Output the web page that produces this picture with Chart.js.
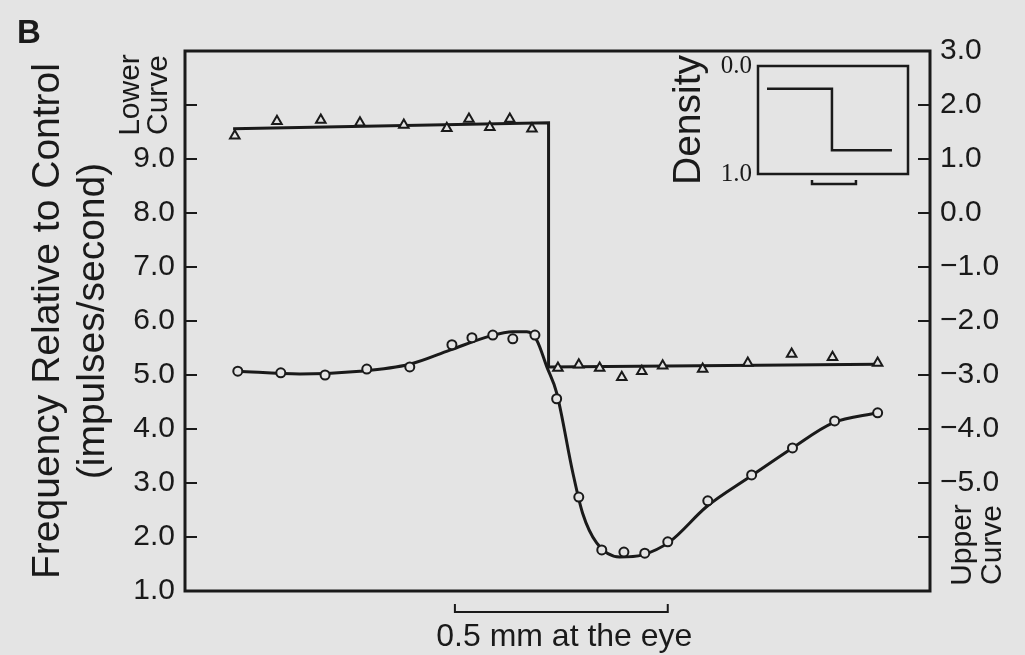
<!DOCTYPE html>
<html>
<head>
<meta charset="utf-8">
<script src="https://cdn.jsdelivr.net/npm/chart.js@4.4.1/dist/chart.umd.min.js"></script>
<style>
  html, body { margin: 0; padding: 0; background: #e4e4e4; }
  #wrap { position: relative; width: 1025px; height: 655px; overflow: hidden; }
  #main { position: absolute; left: 0; top: 0; }
  #inset { position: absolute; left: 640px; top: 45px; }
</style>
</head>
<body>
<div id="wrap">
  <canvas id="main" width="1025" height="655"></canvas>
  <canvas id="inset" width="285" height="155"></canvas>
</div>
<script>
// position in mm across the retina
const triX = [0.117, 0.216, 0.319, 0.411, 0.514, 0.615, 0.667, 0.716, 0.763, 0.815,
              0.876, 0.925, 0.974, 1.026, 1.073, 1.122, 1.216, 1.322, 1.425, 1.521, 1.627];
const triY = [1.43, 1.70, 1.72, 1.67, 1.63, 1.57, 1.74, 1.59, 1.74, 1.56,
              -2.87, -2.81, -2.87, -3.04, -2.93, -2.83, -2.89, -2.78, -2.61, -2.67, -2.78];

const circX = [0.124, 0.225, 0.329, 0.427, 0.528, 0.627, 0.674, 0.723, 0.770, 0.822,
               0.873, 0.925, 0.979, 1.031, 1.080, 1.134, 1.228, 1.331, 1.427, 1.526, 1.627];
const circY = [5.07, 5.04, 5.00, 5.11, 5.15, 5.56, 5.69, 5.74, 5.67, 5.74,
               4.56, 2.74, 1.76, 1.72, 1.70, 1.91, 2.67, 3.15, 3.65, 4.15, 4.30];

// fitted curves
const triFitX = [0.113, 0.854, 0.854, 1.627];
const triFitY = [1.56, 1.67, -2.85, -2.80];
const circFitX = [0.124, 0.270, 0.411, 0.528, 0.622, 0.716, 0.770, 0.803, 0.826, 0.850, 0.873,
                  0.911, 0.934, 0.967, 1.021, 1.075, 1.138, 1.225, 1.326, 1.427, 1.521, 1.627];
const circFitY = [5.07, 5.02, 5.07, 5.20, 5.46, 5.72, 5.80, 5.80, 5.65, 5.15, 4.67,
                  3.19, 2.44, 1.89, 1.63, 1.67, 1.91, 2.56, 3.11, 3.65, 4.11, 4.30];

// inset: density profile of the stimulus edge
const densX = [0.06, 0.493, 0.493, 0.893];
const densY = [0.21, 0.21, 0.78, 0.78];

const leftTicks = [1, 11];   // lower curve axis
const rightTicks = [-7, 3];  // upper curve axis
const scaleBar = [0.634, 1.134]; // 0.5 mm

const ink = '#1a1a1a';
const bg = '#e4e4e4';
const sans = '"Liberation Sans", Arial, Helvetica, sans-serif';

function pts(xs, ys) {
    return xs.map((x, i) => ({ x: x, y: ys[i] }));
}

function fmt(v) {
    const s = Math.abs(v).toFixed(1);
    return v < 0 ? '\u2212' + s : s;
}

// frame round the plot area
const framePlugin = {
    id: 'frame',
    afterDraw(chart, args, opts) {
        const a = chart.chartArea, ctx = chart.ctx;
        ctx.save();
        ctx.strokeStyle = ink;
        ctx.lineWidth = opts.width || 2.5;
        ctx.strokeRect(a.left, a.top, a.right - a.left, a.bottom - a.top);
        ctx.restore();
    }
};

// tick marks pointing into the plot
const innerTicks = {
    id: 'innerTicks',
    afterDraw(chart) {
        const ctx = chart.ctx, a = chart.chartArea;
        ctx.save();
        ctx.strokeStyle = ink;
        ctx.lineWidth = 2;
        ['y', 'y2'].forEach(id => {
            const sc = chart.scales[id];
            sc.ticks.forEach(t => {
                const py = sc.getPixelForValue(t.value);
                ctx.beginPath();
                if (id === 'y') { ctx.moveTo(a.left, py); ctx.lineTo(a.left + 12, py); }
                else { ctx.moveTo(a.right, py); ctx.lineTo(a.right - 12, py); }
                ctx.stroke();
            });
        });
        ctx.restore();
    }
};

function rotText(ctx, lines, cx, cy, gap) {
    ctx.save();
    ctx.translate(cx, cy);
    ctx.rotate(-Math.PI / 2);
    ctx.textAlign = 'center';
    ctx.textBaseline = 'middle';
    lines.forEach((l, i) => ctx.fillText(l, 0, (i - (lines.length - 1) / 2) * gap));
    ctx.restore();
}

const extras = {
    id: 'extras',
    afterDraw(chart) {
        const ctx = chart.ctx, a = chart.chartArea, x = chart.scales.x;
        ctx.save();
        ctx.fillStyle = ink;
        ctx.strokeStyle = ink;

        ctx.font = 'bold 33px ' + sans;
        ctx.textAlign = 'left';
        ctx.textBaseline = 'alphabetic';
        ctx.fillText('B', 17, 43);

        ctx.font = '30px ' + sans;
        rotText(ctx, ['Lower', 'Curve'], a.left - 40, a.top + 44, 28);
        rotText(ctx, ['Upper', 'Curve'], a.right + 48, a.bottom - 46, 30);

        // scale bar
        const x0 = x.getPixelForValue(scaleBar[0]);
        const x1 = x.getPixelForValue(scaleBar[1]);
        const by = a.bottom + 21;
        ctx.lineWidth = 2;
        ctx.beginPath();
        ctx.moveTo(x0, by - 8); ctx.lineTo(x0, by); ctx.lineTo(x1, by); ctx.lineTo(x1, by - 8);
        ctx.stroke();
        ctx.font = '32px ' + sans;
        ctx.textAlign = 'center';
        ctx.textBaseline = 'alphabetic';
        ctx.fillText('0.5 mm at the eye', (x0 + x1) / 2 + 3, a.bottom + 55);
        ctx.restore();
    }
};

new Chart(document.getElementById('main'), {
    type: 'scatter',
    data: {
        datasets: [
            {
                data: pts(triX, triY), yAxisID: 'y2', pointStyle: 'triangle',
                pointRadius: 5.5, borderColor: ink, backgroundColor: bg, borderWidth: 2, order: 0
            },
            {
                data: pts(circX, circY), yAxisID: 'y', pointStyle: 'circle',
                pointRadius: 4.5, borderColor: ink, backgroundColor: bg, borderWidth: 2, order: 0
            },
            {
                data: pts(triFitX, triFitY), yAxisID: 'y2', showLine: true, pointRadius: 0,
                borderColor: ink, borderWidth: 3, order: 1
            },
            {
                data: pts(circFitX, circFitY), yAxisID: 'y', showLine: true, pointRadius: 0,
                borderColor: ink, borderWidth: 3, cubicInterpolationMode: 'monotone', order: 1
            }
        ]
    },
    options: {
        responsive: false,
        animation: false,
        layout: { padding: { top: 51, bottom: 64, left: 0, right: 0 } },
        plugins: { legend: { display: false }, tooltip: { enabled: false }, frame: { width: 3 } },
        scales: {
            x: { type: 'linear', min: 0, max: 1.75, display: false },
            y: {
                position: 'left', min: leftTicks[0], max: leftTicks[1],
                afterFit(s) { s.width = 185; },
                grid: { display: false, drawTicks: false },
                border: { display: false },
                ticks: {
                    stepSize: 1, padding: 10, color: ink,
                    font: { family: sans, size: 30 },
                    callback: v => (v <= 9 ? fmt(v) : '')
                },
                title: {
                    display: true, color: ink,
                    text: ['Frequency Relative to Control', '(impulses/second)'],
                    font: { family: sans, size: 39, lineHeight: 1.15 },
                    padding: { top: 26, bottom: 0 }
                }
            },
            y2: {
                position: 'right', min: rightTicks[0], max: rightTicks[1],
                afterFit(s) { s.width = 95; },
                grid: { display: false, drawTicks: false },
                border: { display: false },
                ticks: {
                    stepSize: 1, padding: 10, color: ink,
                    font: { family: sans, size: 30 },
                    callback: v => (v >= -5 ? fmt(v) : '')
                }
            }
        }
    },
    plugins: [framePlugin, innerTicks, extras]
});

// inset chart
const insetBar = [0.36, 0.653];
const insetExtras = {
    id: 'insetExtras',
    afterDraw(chart) {
        const ctx = chart.ctx, a = chart.chartArea, x = chart.scales.x;
        const x0 = x.getPixelForValue(insetBar[0]);
        const x1 = x.getPixelForValue(insetBar[1]);
        const by = a.bottom + 10;
        ctx.save();
        ctx.strokeStyle = ink;
        ctx.lineWidth = 2.5;
        ctx.beginPath();
        ctx.moveTo(x0, by - 4); ctx.lineTo(x0, by); ctx.lineTo(x1, by); ctx.lineTo(x1, by - 4);
        ctx.stroke();
        ctx.restore();
    }
};

new Chart(document.getElementById('inset'), {
    type: 'scatter',
    data: {
        datasets: [{
            data: pts(densX, densY), showLine: true, pointRadius: 0,
            borderColor: ink, borderWidth: 2.5
        }]
    },
    options: {
        responsive: false,
        animation: false,
        layout: { padding: { top: 20, bottom: 26, left: 0, right: 17 } },
        plugins: { legend: { display: false }, tooltip: { enabled: false }, frame: { width: 2.5 } },
        scales: {
            x: { type: 'linear', min: 0, max: 1, display: false },
            y: {
                min: 0, max: 1, reverse: true,
                afterFit(s) { s.width = 118; },
                grid: { display: false, drawTicks: false },
                border: { display: false },
                ticks: {
                    stepSize: 1, padding: 6, color: ink,
                    font: { family: '"Liberation Serif", "DejaVu Serif", serif', size: 25 },
                    callback: v => v.toFixed(1)
                },
                title: {
                    display: true, text: 'Density', color: ink,
                    font: { family: sans, size: 39, lineHeight: 1.2 },
                    padding: { top: 26, bottom: 0 }
                }
            }
        }
    },
    plugins: [framePlugin, insetExtras]
});
</script>
</body>
</html>
